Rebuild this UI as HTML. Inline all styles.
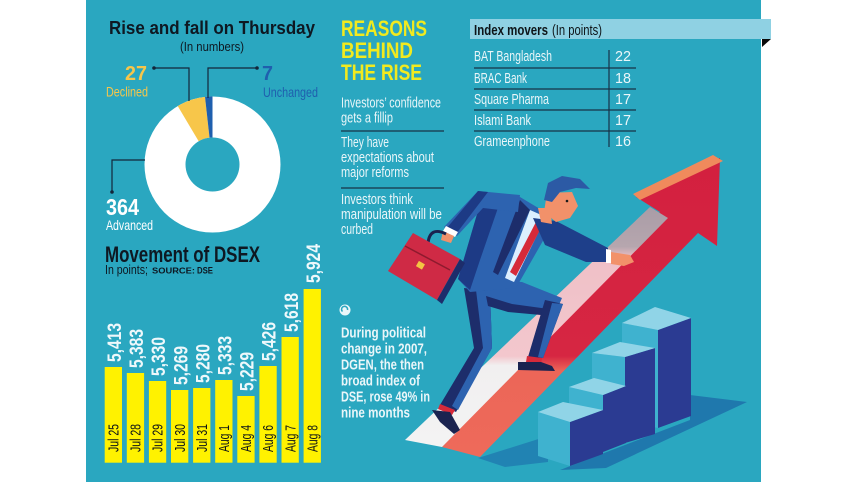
<!DOCTYPE html>
<html>
<head>
<meta charset="utf-8">
<style>
  html,body{margin:0;padding:0;background:#ffffff;}
  svg{display:block;}
  text{font-family:"Liberation Sans", Arial, sans-serif;}
</style>
</head>
<body>
<svg width="857" height="482" viewBox="0 0 857 482" xmlns="http://www.w3.org/2000/svg">
  <defs>
    <linearGradient id="strip" gradientUnits="userSpaceOnUse" x1="0" y1="440" x2="0" y2="207">
      <stop offset="0" stop-color="#f3f3f3"/>
      <stop offset="0.32" stop-color="#f1eff0"/>
      <stop offset="0.36" stop-color="#f3c7cd"/>
      <stop offset="0.78" stop-color="#efc0c7"/>
      <stop offset="0.83" stop-color="#b6a6ae"/>
      <stop offset="1" stop-color="#a99ca6"/>
    </linearGradient>
    <linearGradient id="redg" gradientUnits="userSpaceOnUse" x1="0" y1="457" x2="0" y2="160">
      <stop offset="0" stop-color="#ee6a5a"/>
      <stop offset="0.29" stop-color="#ec6658"/>
      <stop offset="0.34" stop-color="#d62642"/>
      <stop offset="1" stop-color="#d3203f"/>
    </linearGradient>
  </defs>

  <!-- panel -->
  <rect x="86" y="0" width="675" height="482" fill="#2aa7c0"/>

  <!-- ===== Donut ===== -->
  <text x="109" y="34" font-size="18" font-weight="bold" fill="#0e1822" textLength="206" lengthAdjust="spacingAndGlyphs">Rise and fall on Thursday</text>
  <text x="180" y="51" font-size="12.5" fill="#0e1822" textLength="64" lengthAdjust="spacingAndGlyphs">(In numbers)</text>

  <circle cx="212.5" cy="164.5" r="68" fill="#ffffff"/>
  <path d="M205.0,96.9 A68,68 0 0 0 177.73,106.06 L198.69,141.3 A27,27 0 0 1 209.52,137.66 Z" fill="#f7c64a"/>
  <path d="M212.5,96.5 A68,68 0 0 0 205.0,96.9 L209.52,137.66 A27,27 0 0 1 212.5,137.5 Z" fill="#1f5fae"/>
  <circle cx="212.5" cy="164.5" r="27" fill="#2aa7c0"/>

  <!-- leader lines -->
  <polyline points="154,68 189,68 189,101" fill="none" stroke="#13263a" stroke-width="1.2"/>
  <circle cx="154" cy="68" r="1.8" fill="#13263a"/>
  <polyline points="208,98 208,68 257,68" fill="none" stroke="#13263a" stroke-width="1.2"/>
  <circle cx="257" cy="68" r="1.8" fill="#13263a"/>
  <polyline points="145,160 112,160 112,192" fill="none" stroke="#13263a" stroke-width="1.2"/>
  <circle cx="112" cy="192" r="1.8" fill="#13263a"/>

  <text x="125" y="80" font-size="20" font-weight="bold" fill="#f7c64a" textLength="22" lengthAdjust="spacingAndGlyphs">27</text>
  <text x="106" y="96.5" font-size="14" fill="#f7c64a" textLength="42" lengthAdjust="spacingAndGlyphs">Declined</text>
  <text x="262" y="80" font-size="20" font-weight="bold" fill="#1f5fae" textLength="11" lengthAdjust="spacingAndGlyphs">7</text>
  <text x="263" y="97" font-size="14" fill="#1f5fae" textLength="55" lengthAdjust="spacingAndGlyphs">Unchanged</text>
  <text x="106" y="215" font-size="23" font-weight="bold" fill="#ffffff" textLength="33" lengthAdjust="spacingAndGlyphs">364</text>
  <text x="106" y="230" font-size="14" fill="#ffffff" textLength="47" lengthAdjust="spacingAndGlyphs">Advanced</text>

  <!-- ===== DSEX bar chart ===== -->
  <text x="105" y="262" font-size="22" font-weight="bold" fill="#0e1822" textLength="155" lengthAdjust="spacingAndGlyphs">Movement of DSEX</text>
  <text x="105" y="274" font-size="13" fill="#0e1822" textLength="43" lengthAdjust="spacingAndGlyphs">In points;</text>
  <text x="152" y="273.5" font-size="8.5" font-weight="bold" fill="#0e1822" textLength="43" lengthAdjust="spacingAndGlyphs">SOURCE:</text>
  <text x="197" y="273.5" font-size="9.5" font-weight="bold" fill="#0e1822" textLength="16" lengthAdjust="spacingAndGlyphs">DSE</text>

  <g fill="#fff200">
    <rect x="104.7" y="367" width="17.3" height="95.7"/>
    <rect x="126.8" y="373" width="17.3" height="89.7"/>
    <rect x="148.9" y="381" width="17.3" height="81.7"/>
    <rect x="171.0" y="390" width="17.3" height="72.7"/>
    <rect x="193.1" y="388" width="17.3" height="74.7"/>
    <rect x="215.2" y="380" width="17.3" height="82.7"/>
    <rect x="237.3" y="396" width="17.3" height="66.7"/>
    <rect x="259.4" y="366" width="17.3" height="96.7"/>
    <rect x="281.5" y="337" width="17.3" height="125.7"/>
    <rect x="303.6" y="289" width="17.3" height="173.7"/>
  </g>

  <g font-size="19" font-weight="bold" fill="#eef8fb">
    <text transform="translate(121,362) rotate(-90)" textLength="39" lengthAdjust="spacingAndGlyphs">5,413</text>
    <text transform="translate(143.1,368) rotate(-90)" textLength="39" lengthAdjust="spacingAndGlyphs">5,383</text>
    <text transform="translate(165.2,376) rotate(-90)" textLength="39" lengthAdjust="spacingAndGlyphs">5,330</text>
    <text transform="translate(187.3,385) rotate(-90)" textLength="39" lengthAdjust="spacingAndGlyphs">5,269</text>
    <text transform="translate(209.4,383) rotate(-90)" textLength="39" lengthAdjust="spacingAndGlyphs">5,280</text>
    <text transform="translate(231.5,375) rotate(-90)" textLength="39" lengthAdjust="spacingAndGlyphs">5,333</text>
    <text transform="translate(253.6,391) rotate(-90)" textLength="39" lengthAdjust="spacingAndGlyphs">5,229</text>
    <text transform="translate(275.7,361) rotate(-90)" textLength="39" lengthAdjust="spacingAndGlyphs">5,426</text>
    <text transform="translate(297.8,332) rotate(-90)" textLength="39" lengthAdjust="spacingAndGlyphs">5,618</text>
    <text transform="translate(319.9,283) rotate(-90)" textLength="39" lengthAdjust="spacingAndGlyphs">5,924</text>
  </g>

  <g font-size="15" fill="#0e1418">
    <text transform="translate(118.5,452) rotate(-90)" textLength="28" lengthAdjust="spacingAndGlyphs">Jul 25</text>
    <text transform="translate(140.6,452) rotate(-90)" textLength="28" lengthAdjust="spacingAndGlyphs">Jul 28</text>
    <text transform="translate(162.7,452) rotate(-90)" textLength="28" lengthAdjust="spacingAndGlyphs">Jul 29</text>
    <text transform="translate(184.8,452) rotate(-90)" textLength="28" lengthAdjust="spacingAndGlyphs">Jul 30</text>
    <text transform="translate(206.9,452) rotate(-90)" textLength="28" lengthAdjust="spacingAndGlyphs">Jul 31</text>
    <text transform="translate(229.0,452) rotate(-90)" textLength="27" lengthAdjust="spacingAndGlyphs">Aug 1</text>
    <text transform="translate(251.1,452) rotate(-90)" textLength="27" lengthAdjust="spacingAndGlyphs">Aug 4</text>
    <text transform="translate(273.2,452) rotate(-90)" textLength="27" lengthAdjust="spacingAndGlyphs">Aug 6</text>
    <text transform="translate(295.3,452) rotate(-90)" textLength="27" lengthAdjust="spacingAndGlyphs">Aug 7</text>
    <text transform="translate(317.4,452) rotate(-90)" textLength="27" lengthAdjust="spacingAndGlyphs">Aug 8</text>
  </g>

  <!-- ===== Reasons ===== -->
  <g font-size="22" font-weight="bold" fill="#f2ea1e">
    <text x="341" y="36" textLength="86" lengthAdjust="spacingAndGlyphs">REASONS</text>
    <text x="341" y="58" textLength="72" lengthAdjust="spacingAndGlyphs">BEHIND</text>
    <text x="341" y="80" textLength="81" lengthAdjust="spacingAndGlyphs">THE RISE</text>
  </g>
  <g font-size="14.5" fill="#eaf6f9">
    <text x="341" y="107.5" textLength="100" lengthAdjust="spacingAndGlyphs">Investors’ confidence</text>
    <text x="341" y="122.5" textLength="52" lengthAdjust="spacingAndGlyphs">gets a fillip</text>
    <text x="341" y="147" textLength="48" lengthAdjust="spacingAndGlyphs">They have</text>
    <text x="341" y="162" textLength="93" lengthAdjust="spacingAndGlyphs">expectations about</text>
    <text x="341" y="177" textLength="68" lengthAdjust="spacingAndGlyphs">major reforms</text>
    <text x="341" y="204" textLength="72" lengthAdjust="spacingAndGlyphs">Investors think</text>
    <text x="341" y="219" textLength="101" lengthAdjust="spacingAndGlyphs">manipulation will be</text>
    <text x="341" y="234" textLength="32" lengthAdjust="spacingAndGlyphs">curbed</text>
  </g>
  <line x1="341" y1="131" x2="444" y2="131" stroke="#173247" stroke-width="1.2"/>
  <line x1="341" y1="188" x2="444" y2="188" stroke="#173247" stroke-width="1.2"/>

  <!-- note -->
  <circle cx="345" cy="310" r="5.5" fill="#eaf6f9"/>
  <path d="M342.5,311.5 A3,3 0 1 1 347.5,310" fill="none" stroke="#2aa7c0" stroke-width="1.5"/>
  <g font-size="15" font-weight="bold" fill="#eaf6f9">
    <text x="341" y="337.5" textLength="85" lengthAdjust="spacingAndGlyphs">During political</text>
    <text x="341" y="353.5" textLength="86" lengthAdjust="spacingAndGlyphs">change in 2007,</text>
    <text x="341" y="369.5" textLength="83" lengthAdjust="spacingAndGlyphs">DGEN, the then</text>
    <text x="341" y="385.5" textLength="79" lengthAdjust="spacingAndGlyphs">broad index of</text>
    <text x="341" y="401.5" textLength="89" lengthAdjust="spacingAndGlyphs">DSE, rose 49% in</text>
    <text x="341" y="417.5" textLength="69" lengthAdjust="spacingAndGlyphs">nine months</text>
  </g>

  <!-- ===== Index movers ===== -->
  <rect x="470" y="19" width="301" height="20" fill="#8fd1e3"/>
  <polygon points="762,39 771,39 762,47" fill="#0a0a0a"/>
  <text x="474" y="35" font-size="15" font-weight="bold" fill="#0e1418" textLength="74" lengthAdjust="spacingAndGlyphs">Index movers</text>
  <text x="552" y="35" font-size="15" fill="#0e1418" textLength="50" lengthAdjust="spacingAndGlyphs">(In points)</text>

  <g stroke="#173247" stroke-width="1.2">
    <line x1="609" y1="50" x2="609" y2="147"/>
    <line x1="474" y1="68" x2="636" y2="68"/>
    <line x1="474" y1="89" x2="636" y2="89"/>
    <line x1="474" y1="110" x2="636" y2="110"/>
    <line x1="474" y1="131" x2="636" y2="131"/>
  </g>
  <g font-size="14.5" fill="#eaf6f9">
    <text x="474" y="61" textLength="78" lengthAdjust="spacingAndGlyphs">BAT Bangladesh</text>
    <text x="474" y="83" textLength="53" lengthAdjust="spacingAndGlyphs">BRAC Bank</text>
    <text x="474" y="104" textLength="75" lengthAdjust="spacingAndGlyphs">Square Pharma</text>
    <text x="474" y="125" textLength="57" lengthAdjust="spacingAndGlyphs">Islami Bank</text>
    <text x="474" y="146" textLength="76" lengthAdjust="spacingAndGlyphs">Grameenphone</text>
  </g>
  <g font-size="15" fill="#eaf6f9">
    <text x="615" y="61" textLength="16" lengthAdjust="spacingAndGlyphs">22</text>
    <text x="615" y="83" textLength="16" lengthAdjust="spacingAndGlyphs">18</text>
    <text x="615" y="104" textLength="16" lengthAdjust="spacingAndGlyphs">17</text>
    <text x="615" y="125" textLength="16" lengthAdjust="spacingAndGlyphs">17</text>
    <text x="615" y="146" textLength="16" lengthAdjust="spacingAndGlyphs">16</text>
  </g>

  <!-- ===== Illustration ===== -->
  <!-- shadows -->
  <polygon points="690,395 747,402 606,468 560,470 690,420" fill="#1f78ad"/>
  <polygon points="478,458 548,436 548,462 505,467" fill="#2183b3"/>

  <!-- arrow body -->
  <polygon points="636,197 720,158 717,246 698,233 480,457 442,447 660,212" fill="url(#redg)"/>
  <polygon points="633,194 713,155 723,161 640,200" fill="#f08a5c"/>
  <!-- top strip -->
  <polygon points="405,440 650,207 668,218 442,447" fill="url(#strip)"/>

  <!-- stairs: back to front -->
  <polygon points="622,323 658,330 658,428 622,421" fill="#3fb2cf"/>
  <polygon points="658,330 691,318 691,416 658,428" fill="#2b3b92"/>
  <polygon points="622,323 655,307 691,318 658,330" fill="#90d4e7"/>
  <polygon points="592,353 625,357 625,443 592,439" fill="#3fb2cf"/>
  <polygon points="625,357 655,348 655,434 625,443" fill="#2b3b92"/>
  <polygon points="592,353 620,342 655,348 625,357" fill="#90d4e7"/>
  <polygon points="569,387 603,395 603,452 569,444" fill="#3fb2cf"/>
  <polygon points="603,395 626,386 626,443 603,452" fill="#2b3b92"/>
  <polygon points="569,387 594,378 626,386 603,395" fill="#90d4e7"/>
  <polygon points="538,412 570,422 570,466 538,456" fill="#3fb2cf"/>
  <polygon points="570,422 603,410 603,454 570,466" fill="#2b3b92"/>
  <polygon points="538,412 563,402 603,410 570,422" fill="#90d4e7"/>

  <!-- man -->
  <polygon points="464,288 490,291 492,348 456,412 440,405 474,348" fill="#1d2d6b"/>
  <polygon points="476,290 490,291 492,348 458,410 452,406 483,348" fill="#2d63b0"/>
  <polygon points="440,404 455,410 452,415 438,409" fill="#d62a3a"/>
  <polygon points="432,410 450,412 460,430 454,434 440,422" fill="#1a2350"/>
  <polygon points="484,280 522,282 562,298 556,312 512,306 486,302" fill="#2d63b0"/>
  <polygon points="486,296 512,304 556,310 552,316 508,312 488,306" fill="#1d2d6b"/>
  <polygon points="545,300 563,304 543,358 528,357" fill="#1d2d6b"/>
  <polygon points="552,303 563,304 543,358 538,357" fill="#2d63b0"/>
  <polygon points="527,356 542,358 541,364 526,362" fill="#d62a3a"/>
  <polygon points="518,362 541,362 552,366 555,371 518,370" fill="#1a2350"/>
  <polygon points="480,204 520,197 545,212 548,232 516,288 470,292 458,279" fill="#2d63b0"/>
  <polygon points="480,204 500,202 480,260 470,290 458,279" fill="#1d3a85"/>
  <polygon points="530,210 546,217 514,282 505,278" fill="#dcefff"/>
  <polygon points="536,222 542,226 516,276 510,272" fill="#d62a3a"/>
  <polygon points="520,200 530,210 498,275 493,272" fill="#1d2d6b"/>
  <polygon points="520,195 478,191 444,227 457,236 483,208 518,212" fill="#2d63b0"/>
  <polygon points="478,191 488,192 456,234 446,229" fill="#1d3a85"/>
  <polygon points="446,226 458,232 455,237 443,231" fill="#ffffff"/>
  <polygon points="443,231 454,236 451,243 441,240" fill="#f2916a"/>
  <path d="M428,243 Q430,226 446,234" fill="none" stroke="#1a2350" stroke-width="3"/>
  <polygon points="413,233 460,259 437,300 388,271" fill="#cf2a45"/>
  <polygon points="460,259 465,263 442,304 437,300" fill="#1d2d6b"/>
  <polyline points="405,246 450,270" fill="none" stroke="#8e1a2e" stroke-width="1.5"/>
  <rect x="417" y="262" width="7" height="6" fill="#f3c443" transform="rotate(30 420 265)"/>
  <polygon points="533,218 556,221 608,248 608,262 586,262 545,245" fill="#1e3f8a"/>
  <polygon points="606,249 611,250 611,263 606,263" fill="#ffffff"/>
  <polygon points="611,252 630,255 634,262 624,266 611,264" fill="#f2916a"/>
  <polygon points="538,208 550,208 552,224 541,222" fill="#f2916a"/>
  <polygon points="547,193 572,192 578,206 570,218 556,222 544,212" fill="#f2916a"/>
  <polygon points="544,200 548,183 562,176 580,179 590,189 576,188 560,192 552,202" fill="#2c5aa5"/>
  <circle cx="567" cy="201" r="1.3" fill="#1a1a1a"/>
</svg>
</body>
</html>
